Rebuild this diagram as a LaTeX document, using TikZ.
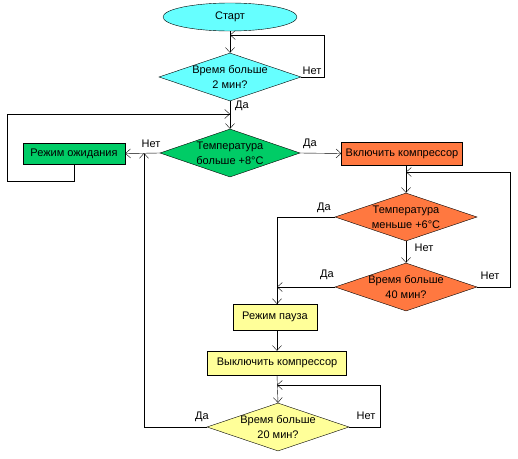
\documentclass[tikz,border=0pt]{standalone}
\usepackage{fontspec}
\setmainfont{Liberation Sans}
\usetikzlibrary{shapes.geometric,arrows.meta}
\definecolor{cyanf}{RGB}{102,255,255}
\definecolor{greenf}{RGB}{0,204,102}
\definecolor{orangef}{RGB}{255,120,64}
\definecolor{yellowf}{RGB}{255,255,153}
\tikzset{txtfont/.style={font=\fontsize{11}{15}\selectfont}}
\begin{document}
\begin{tikzpicture}[x=1pt,y=-1pt,
  every node/.style={txtfont},
  dia/.style={diamond,draw,inner sep=0pt,minimum width=142pt,minimum height=48pt},
  box/.style={rectangle,draw,inner sep=0pt},
  arr/.style={-{Straight Barb[length=5pt,width=9pt]}},
  dtext/.style={align=center,txtfont},
  lbl/.style={inner sep=0pt}]
\useasboundingbox (0,0) rectangle (518,458);
\node[ellipse,draw,fill=cyanf,minimum width=134pt,minimum height=28pt,inner sep=0pt] (start) at (230,17) {Старт};
\node[dia,fill=cyanf,label={[dtext]center:Время больше\\2 мин?}] (d1) at (230,77) {};
\node[dia,fill=greenf,minimum width=140pt,label={[dtext]center:Температура\\больше +8°C}] (d2) at (230,153) {};
\node[box,fill=greenf,minimum width=102pt,minimum height=21pt] (wait) at (74,153.5) {Режим ожидания};
\node[box,fill=orangef,minimum width=121pt,minimum height=23pt] (on) at (402,153.5) {Включить компрессор};
\node[dia,fill=orangef,label={[dtext]center:Температура\\меньше +6°C}] (d3) at (406,217) {};
\node[dia,fill=orangef,label={[dtext]center:Время больше\\40 мин?}] (d4) at (406,287) {};
\node[box,fill=yellowf,minimum width=84pt,minimum height=26pt] (pause) at (275,317) {Режим пауза};
\node[box,fill=yellowf,minimum width=139pt,minimum height=24pt] (off) at (277,363) {Выключить компрессор};
\node[dia,fill=yellowf,label={[dtext]center:Время больше\\20 мин?}] (d5) at (278,427) {};
% coordinates
\coordinate (c1) at (324,35);
\coordinate (c1e) at (230,35);
\coordinate (w1) at (7,181);
\coordinate (w2) at (230,114);
\coordinate (c4) at (510,172);
\coordinate (c4e) at (406,172);
\coordinate (p3) at (277,217);
\coordinate (p4) at (277,287);
\coordinate (p5) at (277,304);
\coordinate (c5) at (380,385);
\coordinate (c5e) at (277,385);
\coordinate (n2) at (144,153);
% connectors
\draw[arr] (start.south) -- (d1.north);
\draw[arr] (d1.east) -| (c1) -- (c1e);
\draw[arr] (d1.south) -- (d2.north);
\draw (wait.south) |- (w1) |- (w2);
\draw[arr] (w1 |- w2) -- (w2);
\draw[arr] (d2.west) -- (wait.east);
\draw[arr] (d2.east) -- (on.west);
\draw[arr] (on.south -| d3.north) -- (d3.north);
\draw[arr] (d3.south) -- (d4.north);
\draw[arr] (d4.east) -| (c4) -- (c4e);
\draw[arr] (d3.west) -- (p3) -- (p5);
\draw[arr] (d4.west) -- (p4);
\draw[arr] (pause.south -| off.north) -- (off.north);
\draw[arr] (off.south) -- (d5.north);
\draw[arr] (d5.east) -| (c5) -- (c5e);
\draw[arr] (d5.west) -| (n2);
% labels
\node[lbl] (l1) at (312,71) {Нет};
\node[lbl] (l2) at (242,106) {Да};
\node[lbl] (l3) at (151,144) {Нет};
\node[lbl] (l4) at (310,144) {Да};
\node[lbl] (l5) at (324,208) {Да};
\node[lbl] (l6) at (424,248) {Нет};
\node[lbl] (l7) at (327,275) {Да};
\node[lbl] (l8) at (490,276) {Нет};
\node[lbl] (l9) at (202,417) {Да};
\node[lbl] (l10) at (366,416) {Нет};
\end{tikzpicture}
\end{document}
